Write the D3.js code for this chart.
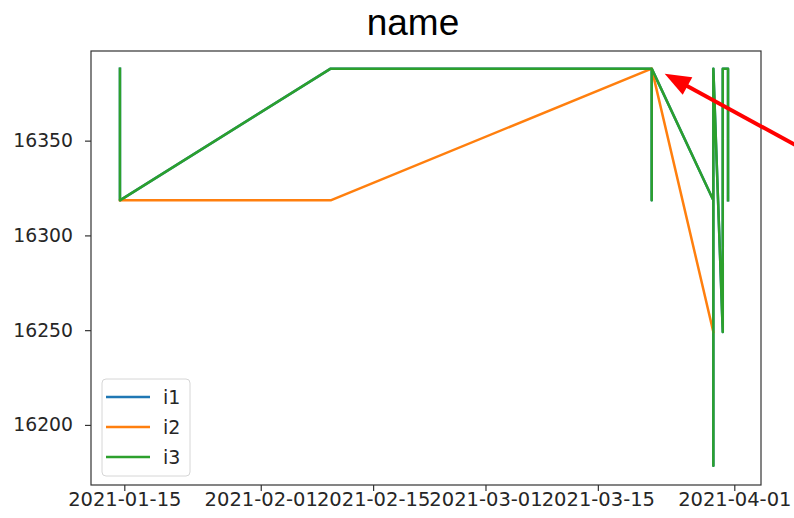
<!DOCTYPE html>
<html>
<head>
<meta charset="utf-8">
<script src="https://cdn.jsdelivr.net/npm/d3@7"></script>
<style>
  html, body { margin: 0; padding: 0; background: #fff; }
  svg { display: block; }
</style>
</head>
<body>
<svg id="chart" width="794" height="518"></svg>
<script>
// Series data: timestamps and values, in drawing order
const timesI1 = ["2021-01-14T11:00", "2021-01-14T11:00", "2021-02-09T17:00", "2021-03-21T17:00",
                 "2021-03-21T17:00", "2021-03-21T17:00", "2021-03-29T09:20", "2021-03-29T09:20",
                 "2021-03-29T09:20", "2021-03-30T13:30", "2021-03-30T13:30", "2021-03-31T05:15",
                 "2021-03-31T05:15"];
const valuesI1 = [16388, 16318.5, 16388, 16388, 16318.5, 16388, 16318.5, 16178.5,
                  16388, 16249, 16388, 16388, 16318.5];

const timesI2 = ["2021-01-14T11:00", "2021-02-09T17:00", "2021-03-21T17:00", "2021-03-29T09:20"];
const valuesI2 = [16318.5, 16318.5, 16388, 16249];

const timesI3 = timesI1.slice();
const valuesI3 = valuesI1.slice();

const seriesNames = ["i1", "i2", "i3"];
const seriesColors = ["#1f77b4", "#ff7f0e", "#2ca02c"];

const xLimits = ["2021-01-10T20:25", "2021-04-04T07:50"];
const yLimits = [16168.3, 16397.3];
const xTickDates = ["2021-01-15", "2021-02-01", "2021-02-15", "2021-03-01", "2021-03-15", "2021-04-01"];
const yTickValues = [16200, 16250, 16300, 16350];

const chartTitle = "name";

// Layout
const W = 794, H = 518;
const plot = { left: 91, right: 761, top: 51, bottom: 485 };

const parse = d3.timeParse("%Y-%m-%dT%H:%M");
const parseDay = d3.timeParse("%Y-%m-%d");
const fmt = d3.timeFormat("%Y-%m-%d");

const x = d3.scaleTime()
  .domain(xLimits.map(parse))
  .range([plot.left, plot.right]);
const y = d3.scaleLinear()
  .domain(yLimits)
  .range([plot.bottom, plot.top]);

const svg = d3.select("#chart");

const tickFont = "'DejaVu Sans', sans-serif";

// Title
svg.append("text")
  .attr("x", 413)
  .attr("y", 35)
  .attr("text-anchor", "middle")
  .attr("font-family", "'Liberation Sans', Arial, sans-serif")
  .attr("font-size", 37)
  .attr("fill", "#000")
  .text(chartTitle);

// Clip to the axes area
svg.append("defs").append("clipPath").attr("id", "plotClip")
  .append("rect")
  .attr("x", plot.left).attr("y", plot.top)
  .attr("width", plot.right - plot.left).attr("height", plot.bottom - plot.top);

const series = [
  { name: seriesNames[0], color: seriesColors[0], t: timesI1, v: valuesI1 },
  { name: seriesNames[1], color: seriesColors[1], t: timesI2, v: valuesI2 },
  { name: seriesNames[2], color: seriesColors[2], t: timesI3, v: valuesI3 }
];

const line = d3.line()
  .x(d => x(d[0]))
  .y(d => y(d[1]));

const lines = svg.append("g").attr("clip-path", "url(#plotClip)");
series.forEach(s => {
  const pts = s.t.map((t, i) => [parse(t), s.v[i]]);
  lines.append("path")
    .datum(pts)
    .attr("d", line)
    .attr("fill", "none")
    .attr("stroke", s.color)
    .attr("stroke-width", 2.5)
    .attr("stroke-linejoin", "round")
    .attr("stroke-linecap", "square");
});

// Axes
const xAxis = d3.axisBottom(x)
  .tickValues(xTickDates.map(parseDay))
  .tickFormat(fmt)
  .tickSizeInner(6)
  .tickSizeOuter(0)
  .tickPadding(4);
const gx = svg.append("g")
  .attr("transform", `translate(0,${plot.bottom})`)
  .call(xAxis);
gx.select(".domain").remove();
gx.selectAll("line").attr("stroke", "#333").attr("stroke-width", 1.2);
gx.selectAll("text")
  .attr("font-family", tickFont)
  .attr("font-size", 19.5)
  .attr("fill", "#262626")
  .attr("dy", "0.71em")
  .attr("y", 7);

const yAxis = d3.axisLeft(y)
  .tickValues(yTickValues)
  .tickFormat(d3.format("d"))
  .tickSizeInner(6)
  .tickSizeOuter(0)
  .tickPadding(12);
const gy = svg.append("g")
  .attr("transform", `translate(${plot.left},0)`)
  .call(yAxis);
gy.select(".domain").remove();
gy.selectAll("line").attr("stroke", "#333").attr("stroke-width", 1.2);
gy.selectAll("text")
  .attr("font-family", tickFont)
  .attr("font-size", 18.8)
  .attr("fill", "#262626");

// Axes frame
svg.append("rect")
  .attr("x", plot.left).attr("y", plot.top)
  .attr("width", plot.right - plot.left).attr("height", plot.bottom - plot.top)
  .attr("fill", "none")
  .attr("stroke", "#333")
  .attr("stroke-width", 1.2);

// Legend
const legend = svg.append("g").attr("transform", "translate(102,379)");
legend.append("rect")
  .attr("width", 88).attr("height", 97)
  .attr("rx", 4).attr("ry", 4)
  .attr("fill", "#fff").attr("fill-opacity", 0.8)
  .attr("stroke", "#d6d6d6").attr("stroke-width", 1);
series.forEach((s, i) => {
  const yy = 18 + i * 30;
  legend.append("line")
    .attr("x1", 4).attr("x2", 48)
    .attr("y1", yy).attr("y2", yy)
    .attr("stroke", s.color).attr("stroke-width", 2.5);
  legend.append("text")
    .attr("x", 61).attr("y", yy)
    .attr("dy", "0.36em")
    .attr("font-family", tickFont)
    .attr("font-size", 19)
    .attr("fill", "#262626")
    .text(s.name);
});

// Red arrow pointing at the peak reached on 2021-03-21
const peak = [parse(timesI2[2]), valuesI2[2]];
const tip = [x(peak[0]) + 13, y(peak[1]) + 5];
const tail = [W + 6, tip[1] + 74];
const dx = tip[0] - tail[0], dy = tip[1] - tail[1];
const len = Math.hypot(dx, dy);
const ux = dx / len, uy = dy / len;
const headLen = 26, headHalf = 10;
const base = [tip[0] - ux * headLen, tip[1] - uy * headLen];
svg.append("line")
  .attr("x1", tail[0]).attr("y1", tail[1])
  .attr("x2", base[0] + ux * 2).attr("y2", base[1] + uy * 2)
  .attr("stroke", "#f00").attr("stroke-width", 4);
svg.append("polygon")
  .attr("points", [
    tip,
    [base[0] - uy * headHalf, base[1] + ux * headHalf],
    [base[0] + uy * headHalf, base[1] - ux * headHalf]
  ].map(p => p.join(",")).join(" "))
  .attr("fill", "#f00");
</script>
</body>
</html>
